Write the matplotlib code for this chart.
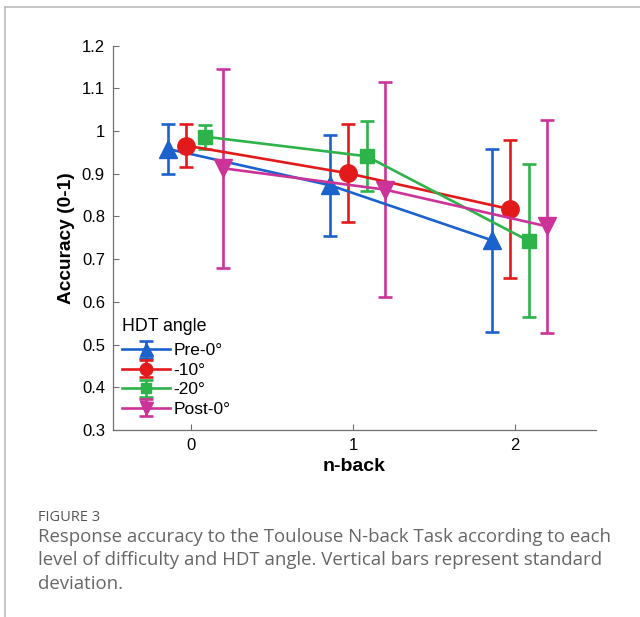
import matplotlib.pyplot as plt
from matplotlib.lines import Line2D
import numpy as np

plt.rcParams['font.family'] = ['Liberation Sans', 'DejaVu Sans']

# n-back levels
nback = [0, 1, 2]
xticklabels = ['0', '1', '2']

# accuracy means and standard deviations per HDT angle
groups = ['Pre-0°', '-10°', '-20°', 'Post-0°']
pre0_mean = [0.958, 0.873, 0.744]
pre0_sd = [0.059, 0.118, 0.214]
m10_mean = [0.966, 0.901, 0.817]
m10_sd = [0.050, 0.115, 0.161]
m20_mean = [0.987, 0.941, 0.743]
m20_sd = [0.028, 0.082, 0.179]
post0_mean = [0.913, 0.863, 0.777]
post0_sd = [0.233, 0.251, 0.250]

means = [pre0_mean, m10_mean, m20_mean, post0_mean]
sds = [pre0_sd, m10_sd, m20_sd, post0_sd]
offsets = [-0.14, -0.028, 0.085, 0.197]
colors = ['#1c62cc', '#e31a1c', '#2db34a', '#cc3399']
markers = ['^', 'o', 's', 'v']
msizes = [13, 12.5, 9.5, 13]

fig = plt.figure(figsize=(6.4, 6.17), dpi=100)
ax = fig.add_axes([0.177, 0.303, 0.754, 0.623])

for i in range(4):
    x = np.array(nback) + offsets[i]
    ax.errorbar(x, means[i], yerr=sds[i], color=colors[i], marker=markers[i],
                markersize=msizes[i], linewidth=1.9, elinewidth=1.9,
                capsize=5, capthick=1.9, label=groups[i])

ax.set_xlim(-0.48, 2.5)
ax.set_ylim(0.3, 1.2)
ax.set_xticks(nback)
ax.set_xticklabels(xticklabels)
ax.set_yticks(np.arange(0.3, 1.21, 0.1))
ax.set_yticklabels(['0.3', '0.4', '0.5', '0.6', '0.7', '0.8', '0.9', '1', '1.1', '1.2'])
ax.tick_params(direction='in', length=4, width=0.8, colors='#707070',
               labelcolor='black', labelsize=12, pad=6)
for s in ['top', 'right']:
    ax.spines[s].set_visible(False)
for s in ['left', 'bottom']:
    ax.spines[s].set_color('#707070')
    ax.spines[s].set_linewidth(0.9)

ax.set_xlabel('n-back', fontsize=14, fontweight='bold', labelpad=3)
ax.set_ylabel('Accuracy (0-1)', fontsize=13.8, fontweight='bold', labelpad=5)

leg = ax.legend(title='HDT angle', loc='upper left', frameon=False,
                fontsize=12.5, title_fontsize=12.8, handlelength=2.75,
                handletextpad=0.2, labelspacing=0.25, borderaxespad=0,
                borderpad=0, markerscale=0.72,
                bbox_to_anchor=(0.019, 0.292))
leg._legend_box.align = 'left'
leg._legend_box.sep = 6

# frame lines of the figure panel
fig.add_artist(Line2D([5 / 640, 1], [1 - 7 / 617, 1 - 7 / 617], color='#bbbbbb', linewidth=1.2))
fig.add_artist(Line2D([5 / 640, 5 / 640], [0, 1 - 7 / 617], color='#bbbbbb', linewidth=1.2))

# caption
fig.text(38 / 640, 1 - 521 / 617, 'FIGURE 3', fontsize=10.5, color='#555555',
         family=['Open Sans', 'DejaVu Sans'], va='baseline')
caption = ('Response accuracy to the Toulouse N-back Task according to each\n'
           'level of difficulty and HDT angle. Vertical bars represent standard\n'
           'deviation.')
fig.text(38 / 640, 1 - 528 / 617, caption, fontsize=13.4, color='#666666',
         family=['Open Sans', 'DejaVu Sans'], va='top', linespacing=1.38)

fig.savefig('out.png', dpi=100)
